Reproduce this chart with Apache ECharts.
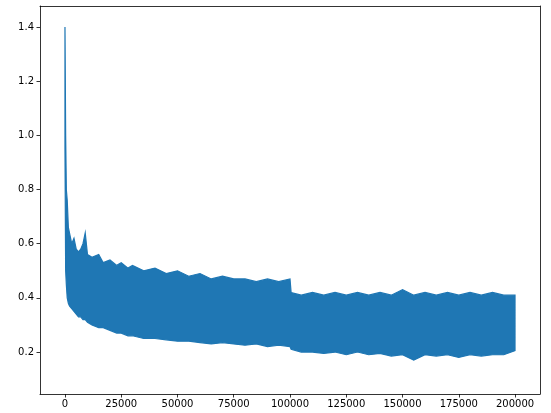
<!DOCTYPE html>
<html>
<head>
<meta charset="utf-8">
<script src="https://cdn.jsdelivr.net/npm/echarts@6/dist/echarts.min.js"></script>
<style>html,body{margin:0;padding:0;background:#fff}#c{width:551px;height:413px}</style>
</head>
<body>
<div id="c"></div>
<script>
// envelope of the noisy loss curve
const steps = [0, 300, 600, 1000, 1500, 2000, 3000, 4000, 5000, 6000, 7000, 8000, 9000, 10000, 12000, 15000, 17000, 20000, 23000, 25000, 28000, 30000, 35000, 40000, 45000, 50000, 55000, 60000, 65000, 70000, 75000, 80000, 85000, 90000, 95000, 100000, 100500, 105000, 110000, 115000, 120000, 125000, 130000, 135000, 140000, 145000, 150000, 155000, 160000, 165000, 170000, 175000, 180000, 185000, 190000, 195000, 200000];
const upper = [1.40, 1.00, 0.80, 0.76, 0.66, 0.64, 0.60, 0.62, 0.58, 0.57, 0.58, 0.60, 0.64, 0.56, 0.55, 0.56, 0.53, 0.54, 0.52, 0.53, 0.51, 0.52, 0.50, 0.51, 0.49, 0.50, 0.48, 0.49, 0.47, 0.48, 0.47, 0.47, 0.46, 0.47, 0.46, 0.47, 0.42, 0.41, 0.42, 0.41, 0.42, 0.41, 0.42, 0.41, 0.42, 0.41, 0.43, 0.41, 0.42, 0.41, 0.42, 0.41, 0.42, 0.41, 0.42, 0.41, 0.41];
const lower = [0.95, 0.50, 0.45, 0.40, 0.38, 0.37, 0.36, 0.35, 0.34, 0.33, 0.33, 0.32, 0.32, 0.31, 0.30, 0.29, 0.29, 0.28, 0.27, 0.27, 0.26, 0.26, 0.25, 0.25, 0.245, 0.24, 0.24, 0.235, 0.23, 0.235, 0.23, 0.225, 0.23, 0.22, 0.225, 0.22, 0.21, 0.20, 0.20, 0.195, 0.20, 0.19, 0.20, 0.19, 0.195, 0.185, 0.19, 0.17, 0.19, 0.185, 0.19, 0.18, 0.19, 0.185, 0.19, 0.19, 0.205];
const xTicks = [0, 25000, 50000, 75000, 100000, 125000, 150000, 175000, 200000];
const yTicks = [0.2, 0.4, 0.6, 0.8, 1.0, 1.2, 1.4];

const color = '#1f77b4';
const bandData = steps.map((s, i) => [s, lower[i], upper[i]]);

const chart = echarts.init(document.getElementById('c'));
const line = { onZero: false, lineStyle: { color: '#000', width: 0.8 } };
const label = { color: '#000', fontSize: 10, fontFamily: 'DejaVu Sans' };
chart.setOption({
  animation: false,
  grid: { left: 40, right: 11, top: 6, bottom: 19 },
  xAxis: [{
    type: 'value', min: -11100, max: 211100, splitLine: { show: false },
    axisLine: line,
    axisTick: { length: 3.5, lineStyle: line.lineStyle, customValues: xTicks },
    axisLabel: Object.assign({ customValues: xTicks, margin: 5, formatter: v => String(v) }, label)
  }, {
    type: 'value', position: 'top', min: -11100, max: 211100, splitLine: { show: false },
    axisLine: line, axisTick: { show: false }, axisLabel: { show: false }
  }],
  yAxis: [{
    type: 'value', min: 0.045, max: 1.478, splitLine: { show: false },
    axisLine: line,
    axisTick: { length: 3.5, lineStyle: line.lineStyle, customValues: yTicks },
    axisLabel: Object.assign({ customValues: yTicks, margin: 6, formatter: v => v.toFixed(1) }, label)
  }, {
    type: 'value', position: 'right', min: 0.045, max: 1.478, splitLine: { show: false },
    axisLine: line, axisTick: { show: false }, axisLabel: { show: false }
  }],
  series: [{
    type: 'custom',
    data: bandData,
    renderItem: function (params, api) {
      if (params.dataIndex !== 0) return;
      const top = bandData.map(d => api.coord([d[0], d[2]]));
      const bot = bandData.map(d => api.coord([d[0], d[1]])).reverse();
      return {
        type: 'polygon',
        shape: { points: top.concat(bot) },
        style: { fill: color, stroke: color, lineWidth: 1.2 }
      };
    }
  }]
});
</script>
</body>
</html>
